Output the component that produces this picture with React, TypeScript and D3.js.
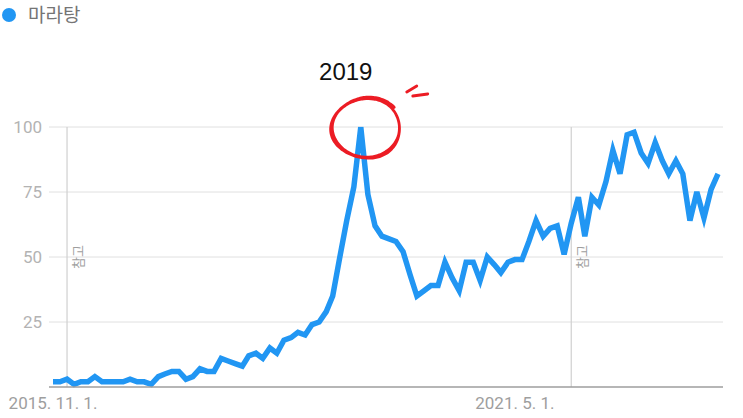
import React from 'react';
import * as d3 from 'd3';

// ---- data (monthly search interest, Google Trends style) ----
const SERIES_NAME = '마라탕';
const START_MONTH = '2015-11-01';
const values = [
  2, 2, 3, 1, 2, 2, 4, 2, 2, 2,
  2, 3, 2, 2, 1, 4, 5, 6, 6, 3,
  4, 7, 6, 6, 11, 10, 9, 8, 12, 13,
  11, 15, 13, 18, 19, 21, 20, 24, 25, 29,
  35, 50, 64, 77, 100, 74, 62, 58, 57, 56,
  52, 43, 35, 37, 39, 39, 48, 42, 37, 48,
  48, 41, 50, 47, 44, 48, 49, 49, 56, 64,
  58, 61, 62, 51, 63, 73, 58, 73, 70, 79,
  91, 82, 97, 98, 90, 86, 94, 87, 82, 87,
  82, 64, 75, 65, 76, 82,
];
const yTicks = [0, 25, 50, 75, 100];
const xTickDates = ['2015-11-01', '2021-05-01'];
const xTickLabels = ['2015. 11. 1.', '2021. 5. 1.'];
const noteDates = ['2016-01-01', '2022-01-01'];
const noteLabel = '참고';
const annotationText = '2019';

const W = 743;
const H = 418;

export default function App() {
  const start = new Date(START_MONTH + 'T00:00:00Z');
  const months = d3.utcMonth.range(start, d3.utcMonth.offset(start, values.length));
  const data = months.map((d, i) => ({ date: d, value: values[i] }));

  const x = d3.scaleUtc().domain([months[0], months[months.length - 1]]).range([53, 718]);
  const y = d3.scaleLinear().domain([0, 100]).range([387, 127]);

  const gridX0 = 49;
  const gridX1 = 723;

  const line = d3
    .line<{ date: Date; value: number }>()
    .x((d) => x(d.date))
    .y((d) => y(d.value));

  // peak for annotation
  const peak = data.reduce((a, b) => (b.value > a.value ? b : a), data[0]);
  const px = x(peak.date);
  const py = y(peak.value);
  const cx = px + 7;
  const cy = py + 1;

  // hand-drawn spiral circle
  const circlePts: [number, number][] = [];
  const th0 = -0.7;
  const turns = 1.9;
  const steps = 170;
  for (let i = 0; i <= steps; i++) {
    const t = i / steps;
    const th = th0 - t * turns * 2 * Math.PI;
    const rx = 36 - 3.5 * t + 1.8 * Math.sin(th * 1.3);
    const ry = 31 - 2.5 * t + 1.5 * Math.cos(th * 0.9);
    const ox = -2 * t;
    const oy = 2 * t;
    circlePts.push([cx + ox + rx * Math.cos(th), cy + oy + ry * Math.sin(th)]);
  }
  const circlePath = d3.line().curve(d3.curveBasis)(circlePts) || '';

  const dashes: [number, number, number, number][] = [
    [cx + 39, cy - 36, cx + 49, cy - 42],
    [cx + 45, cy - 32, cx + 60, cy - 34],
  ];

  return (
    <svg
      width={W}
      height={H}
      style={{ position: 'absolute', left: 0, top: 0, background: '#fff' }}
    >
      <defs>
        <clipPath id="plotClip">
          <rect x={0} y={y(100) - 0.5} width={W} height={H - y(100)} />
        </clipPath>
      </defs>
      <rect x={0} y={0} width={W} height={H} fill="#fff" />

      {/* legend */}
      <circle cx={9} cy={15} r={7} fill="#2196F3" />
      <text
        x={28}
        y={22}
        fontFamily="'Noto Sans CJK KR', 'Noto Sans', sans-serif"
        fontSize={19}
        fill="#757575"
      >
        {SERIES_NAME}
      </text>

      {/* gridlines */}
      {yTicks.map((t) =>
        t === 0 ? null : (
          <line
            key={'g' + t}
            x1={gridX0}
            x2={gridX1}
            y1={y(t)}
            y2={y(t)}
            stroke="#e0e0e0"
            strokeWidth={1}
          />
        )
      )}
      {yTicks.map((t) =>
        t === 0 ? null : (
          <text
            key={'yl' + t}
            x={42}
            y={y(t)}
            dy="0.36em"
            textAnchor="end"
            fontFamily="Roboto, 'Noto Sans', sans-serif"
            fontSize={17}
            fill="#b3b3b3"
          >
            {t}
          </text>
        )
      )}

      {/* note lines */}
      {noteDates.map((d) => {
        const nx = x(new Date(d + 'T00:00:00Z'));
        return (
          <g key={'n' + d}>
            <line x1={nx} x2={nx} y1={y(100)} y2={y(0)} stroke="#d0d0d0" strokeWidth={1.2} />
            <text
              transform={`translate(${nx + 16},${y(50) + 12}) rotate(-90)`}
              fontFamily="'Noto Sans CJK KR', sans-serif"
              fontSize={13}
              fill="#9e9e9e"
            >
              {noteLabel}
            </text>
          </g>
        );
      })}

      {/* series line */}
      <path
        d={line(data) || ''}
        fill="none"
        stroke="#2196F3"
        strokeWidth={5.5}
        strokeLinejoin="miter"
        clipPath="url(#plotClip)"
      />

      {/* baseline */}
      <line x1={gridX0} x2={gridX1} y1={y(0)} y2={y(0)} stroke="#9e9e9e" strokeWidth={1.5} />

      {/* x labels */}
      {xTickDates.map((d, i) => (
        <text
          key={'xl' + d}
          x={x(new Date(d + 'T00:00:00Z'))}
          y={409}
          textAnchor="middle"
          fontFamily="Roboto, 'Noto Sans', sans-serif"
          fontSize={17}
          fill="#9e9e9e"
        >
          {xTickLabels[i]}
        </text>
      ))}

      {/* annotation */}
      <text
        x={px - 15}
        y={80}
        textAnchor="middle"
        fontFamily="'Liberation Sans', Arial, sans-serif"
        fontSize={24}
        fill="#111"
      >
        {annotationText}
      </text>
      <path d={circlePath} fill="none" stroke="#ec1c24" strokeWidth={2.8} strokeLinecap="round" />
      {dashes.map((s, i) => (
        <line
          key={'d' + i}
          x1={s[0]}
          y1={s[1]}
          x2={s[2]}
          y2={s[3]}
          stroke="#ec1c24"
          strokeWidth={2.8}
          strokeLinecap="round"
        />
      ))}
    </svg>
  );
}
